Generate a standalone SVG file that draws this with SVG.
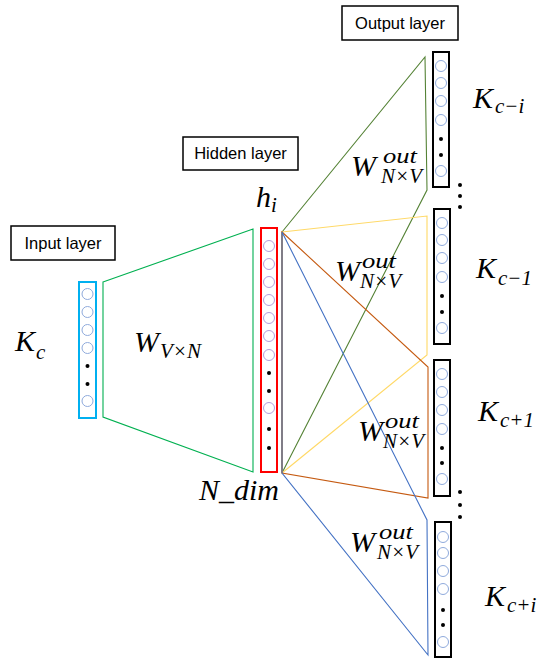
<svg xmlns="http://www.w3.org/2000/svg" width="537" height="659" viewBox="0 0 537 659">
<style>
.lbl{fill:#fff;stroke:#000;stroke-width:1.5}
.lt{font-family:"Liberation Sans",Arial,sans-serif;font-size:16.5px;fill:#000;text-anchor:middle}
.m{font-family:"Liberation Serif","Times New Roman",serif;font-style:italic;font-size:30px;fill:#000}
.s{font-family:"Liberation Serif","Times New Roman",serif;font-style:italic;font-size:21px;fill:#000}
.ob{fill:#fff;stroke:#000;stroke-width:2}
.oc{fill:#fff;stroke:#8faadc;stroke-width:1}
.hc{fill:#fff;stroke:#b4a0dc;stroke-width:1}
.d{fill:#000}
.w{fill:none;stroke-width:1.1}
</style>
<rect width="537" height="659" fill="#fff"/>
<g id="connectors">
  <polygon class="w" points="103,282 253,229 253,472 103,417" stroke="#00b050" stroke-width="2"/>
  <polygon class="w" points="282,232 425,57 427,190 282,473" stroke="#548235"/>
  <polygon class="w" points="282,232 427,216 427,355 282,473" stroke="#ffd966"/>
  <polygon class="w" points="282,232 428,367 428,498 282,473" stroke="#c55a11"/>
  <polygon class="w" points="282,232 427,520 428,655 282,473" stroke="#4472c4"/>
</g>
<g id="input-label">
  <rect class="lbl" x="11" y="226" width="104" height="34"/>
  <text class="lt" x="63" y="249">Input layer</text>
</g>
<g id="hidden-label">
  <rect class="lbl" x="183" y="137" width="115" height="33"/>
  <text class="lt" x="240.5" y="159">Hidden layer</text>
</g>
<g id="output-label">
  <rect class="lbl" x="342" y="6" width="116" height="34"/>
  <text class="lt" x="400" y="29">Output layer</text>
</g>
<g id="input-layer">
  <rect x="79" y="282" width="17" height="136" fill="#fff" stroke="#00b0f0" stroke-width="2"/>
  <circle class="oc" cx="87.5" cy="294" r="5.5"/>
  <circle class="oc" cx="87.5" cy="312" r="5.5"/>
  <circle class="oc" cx="87.5" cy="330" r="5.5"/>
  <circle class="oc" cx="87.5" cy="348" r="5.5"/>
  <circle class="d" cx="87.5" cy="366" r="2"/>
  <circle class="d" cx="87.5" cy="384" r="2"/>
  <circle class="oc" cx="87.5" cy="401" r="5.5"/>
  <text class="m" x="15" y="351">K</text><text class="s" x="36" y="359" font-size="22">c</text>
</g>
<g id="w-in">
  <text class="m" x="134" y="352">W</text><text class="s" x="160" y="358">V×N</text>
</g>
<g id="hidden-layer">
  <rect x="261" y="228" width="16" height="244" fill="#fff" stroke="#ff0000" stroke-width="2"/>
  <circle class="hc" cx="269" cy="246" r="5.5"/>
  <circle class="hc" cx="269" cy="264" r="5.5"/>
  <circle class="hc" cx="269" cy="282" r="5.5"/>
  <circle class="hc" cx="269" cy="300" r="5.5"/>
  <circle class="hc" cx="269" cy="318" r="5.5"/>
  <circle class="hc" cx="269" cy="336" r="5.5"/>
  <circle class="hc" cx="269" cy="355" r="5.5"/>
  <circle class="d" cx="269" cy="373" r="2"/>
  <circle class="d" cx="269" cy="391" r="2"/>
  <circle class="hc" cx="269" cy="408" r="5.5"/>
  <circle class="d" cx="269" cy="429" r="2"/>
  <circle class="d" cx="269" cy="448" r="2"/>
  <text class="m" x="256" y="207">h</text><text class="s" x="271" y="212">i</text>
  <text class="m" x="199" y="500">N_dim</text>
</g>
<g id="output-1">
  <rect class="ob" x="433" y="52" width="16" height="135"/>
  <circle class="oc" cx="441" cy="66" r="5.5"/>
  <circle class="oc" cx="441" cy="83" r="5.5"/>
  <circle class="oc" cx="441" cy="101" r="5.5"/>
  <circle class="oc" cx="441" cy="120" r="5.5"/>
  <circle class="d" cx="441" cy="139" r="2"/>
  <circle class="d" cx="441" cy="155" r="2"/>
  <circle class="oc" cx="441" cy="171" r="5.5"/>
  <text class="m" x="473" y="108">K</text><text class="s" x="495" y="113">c−i</text>
  <text class="m" x="351" y="176">W</text><text class="s" x="383" y="163" textLength="34" lengthAdjust="spacingAndGlyphs">out</text><text class="s" x="381" y="183">N×V</text>
</g>
<g id="dots-1">
  <circle class="d" cx="460" cy="185" r="2"/>
  <circle class="d" cx="460" cy="196" r="2"/>
  <circle class="d" cx="460" cy="207" r="2"/>
</g>
<g id="output-2">
  <rect class="ob" x="434" y="209" width="16" height="135"/>
  <circle class="oc" cx="442" cy="223" r="5.5"/>
  <circle class="oc" cx="442" cy="240" r="5.5"/>
  <circle class="oc" cx="442" cy="258" r="5.5"/>
  <circle class="oc" cx="442" cy="277" r="5.5"/>
  <circle class="d" cx="442" cy="296" r="2"/>
  <circle class="d" cx="442" cy="312" r="2"/>
  <circle class="oc" cx="442" cy="328" r="5.5"/>
  <text class="m" x="476" y="278">K</text><text class="s" x="498" y="285">c−1</text>
  <text class="m" x="335" y="281">W</text><text class="s" x="362" y="268" textLength="34" lengthAdjust="spacingAndGlyphs">out</text><text class="s" x="360" y="288">N×V</text>
</g>
<g id="output-3">
  <rect class="ob" x="434" y="360" width="16" height="136"/>
  <circle class="oc" cx="442" cy="374" r="5.5"/>
  <circle class="oc" cx="442" cy="392" r="5.5"/>
  <circle class="oc" cx="442" cy="410" r="5.5"/>
  <circle class="oc" cx="442" cy="429" r="5.5"/>
  <circle class="d" cx="442" cy="448" r="2"/>
  <circle class="d" cx="442" cy="463" r="2"/>
  <circle class="oc" cx="442" cy="479" r="5.5"/>
  <text class="m" x="478" y="421">K</text><text class="s" x="500" y="427">c+1</text>
  <text class="m" x="358" y="441">W</text><text class="s" x="385" y="428" textLength="34" lengthAdjust="spacingAndGlyphs">out</text><text class="s" x="383" y="448">N×V</text>
</g>
<g id="dots-2">
  <circle class="d" cx="460" cy="492" r="2"/>
  <circle class="d" cx="460" cy="505" r="2"/>
  <circle class="d" cx="460" cy="517" r="2"/>
</g>
<g id="output-4">
  <rect class="ob" x="435" y="522" width="16" height="135"/>
  <circle class="oc" cx="443" cy="537" r="5.5"/>
  <circle class="oc" cx="443" cy="553" r="5.5"/>
  <circle class="oc" cx="443" cy="571" r="5.5"/>
  <circle class="oc" cx="443" cy="589" r="5.5"/>
  <circle class="d" cx="443" cy="610" r="2"/>
  <circle class="d" cx="443" cy="625" r="2"/>
  <circle class="oc" cx="443" cy="642" r="5.5"/>
  <text class="m" x="485" y="606">K</text><text class="s" x="507" y="612">c+i</text>
  <text class="m" x="350" y="552">W</text><text class="s" x="379" y="539" textLength="34" lengthAdjust="spacingAndGlyphs">out</text><text class="s" x="377" y="559">N×V</text>
</g>
</svg>
